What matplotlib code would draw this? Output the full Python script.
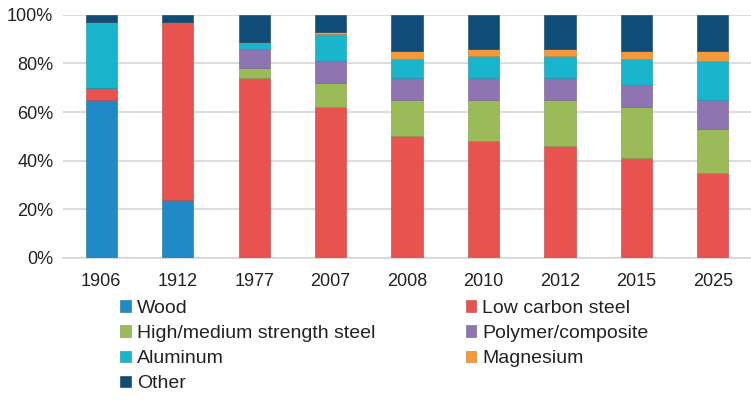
import numpy as np
import matplotlib.pyplot as plt
from matplotlib.colors import to_rgb
from matplotlib.ticker import PercentFormatter

plt.rcParams['font.family'] = ['Liberation Sans', 'DejaVu Sans']

# données (% de la masse)
years = ["1906", "1912", "1977", "2007", "2008", "2010", "2012", "2015", "2025"]
wood      = [65, 24, 0, 0, 0, 0, 0, 0, 0]
low_steel = [5, 73, 74, 62, 50, 48, 46, 41, 35]
high_steel = [0, 0, 4, 10, 15, 17, 19, 21, 18]
polymer   = [0, 0, 8, 9, 9, 9, 9, 9, 12]
aluminum  = [27, 0, 3, 11, 8, 9, 9, 11, 16]
magnesium = [0, 0, 0, 1, 3, 3, 3, 3, 4]
other     = [3, 3, 11, 7, 15, 14, 14, 15, 15]

series = [
    ("Wood", wood, "#1f8ac6"),
    ("Low carbon steel", low_steel, "#e8534f"),
    ("High/medium strength steel", high_steel, "#9bbb59"),
    ("Polymer/composite", polymer, "#8e74b0"),
    ("Aluminum", aluminum, "#19b5cc"),
    ("Magnesium", magnesium, "#f59a3b"),
    ("Other", other, "#0f4d78"),
]

fig = plt.figure(figsize=(7.51, 4.0), dpi=100)
ax = fig.add_axes([0.084, 0.355, 0.916, 0.608])

x = np.arange(len(years))
bottom = np.zeros(len(years))
handles = {}
for name, vals, col in series:
    edge = tuple(c * 0.8 for c in to_rgb(col))
    b = ax.bar(x, vals, 0.41, bottom=bottom, color=col, edgecolor=edge,
               lw=0.4, label=name, zorder=3)
    handles[name] = b
    bottom += np.array(vals)

ax.set_xlim(-0.5, len(years) - 0.5)
ax.set_ylim(0, 100)
ax.set_yticks(np.arange(0, 101, 20))
ax.yaxis.set_major_formatter(PercentFormatter(decimals=0))
ax.set_xticks(x)
ax.set_xticklabels(years)
ax.grid(axis="y", color="#d9d9d9", lw=1.3, zorder=0)
for s in ["top", "right", "left"]:
    ax.spines[s].set_visible(False)
ax.spines["bottom"].set_color("#d9d9d9")
ax.spines["bottom"].set_linewidth(1.3)
ax.tick_params(length=0, labelsize=13, colors="#222222")
ax.tick_params(axis="x", pad=11)
ax.tick_params(axis="y", pad=7)

# légende : deux colonnes placées à la main
kw = dict(loc="upper left", frameon=False, fontsize=14,
          handlelength=0.55, handleheight=0.55, handletextpad=0.3,
          labelspacing=0.42, borderpad=0, borderaxespad=0,
          labelcolor="#222222")
col1 = ["Wood", "High/medium strength steel", "Aluminum", "Other"]
col2 = ["Low carbon steel", "Polymer/composite", "Magnesium"]
fig.legend([handles[n] for n in col1], col1, bbox_to_anchor=(0.16, 0.25), **kw)
fig.legend([handles[n] for n in col2], col2, bbox_to_anchor=(0.62, 0.25), **kw)

fig.savefig("out.png", dpi=100)
